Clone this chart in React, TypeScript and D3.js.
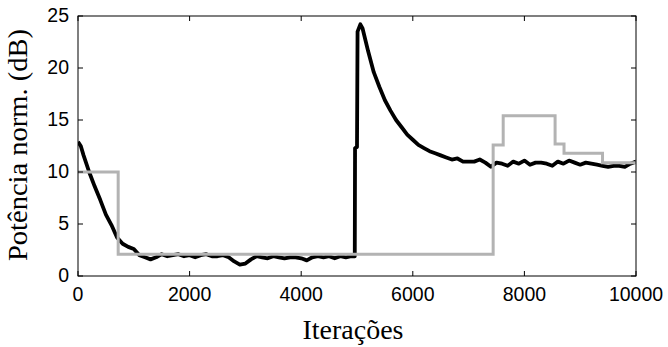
import React from "react";
import * as d3 from "d3";

const blackIter = [0, 50, 100, 200, 300, 400, 500, 600, 700, 800, 900, 1000, 1100, 1200, 1300, 1400, 1500, 1600, 1700, 1800, 1900, 2000, 2100, 2200, 2300, 2400, 2500, 2600, 2700, 2800, 2900, 3000, 3100, 3200, 3300, 3400, 3500, 3600, 3700, 3800, 3900, 4000, 4100, 4200, 4300, 4400, 4500, 4600, 4700, 4800, 4900, 4960, 4965, 5000, 5010, 5060, 5100, 5200, 5300, 5400, 5500, 5600, 5700, 5800, 5900, 6000, 6100, 6200, 6300, 6400, 6500, 6600, 6700, 6800, 6900, 7000, 7100, 7200, 7300, 7400, 7500, 7600, 7700, 7800, 7900, 8000, 8100, 8200, 8300, 8400, 8500, 8600, 8700, 8800, 8900, 9000, 9100, 9200, 9300, 9400, 9500, 9600, 9700, 9800, 9900, 10000];
const blackValues = [12.9, 12.5, 11.6, 10.0, 8.6, 7.3, 5.9, 4.9, 3.7, 3.1, 2.8, 2.6, 2.0, 1.8, 1.6, 1.8, 2.1, 1.9, 2.0, 2.1, 1.9, 2.0, 1.8, 2.0, 2.1, 1.9, 1.9, 2.0, 1.8, 1.4, 1.1, 1.2, 1.6, 1.9, 1.8, 1.7, 1.9, 1.8, 1.7, 1.8, 1.8, 1.7, 1.5, 1.8, 1.9, 1.8, 1.9, 1.7, 1.9, 1.8, 1.9, 1.9, 12.3, 12.4, 23.5, 24.2, 23.8, 21.6, 19.6, 18.2, 16.9, 15.9, 15.0, 14.3, 13.6, 13.1, 12.6, 12.3, 12.0, 11.8, 11.6, 11.4, 11.2, 11.3, 11.0, 11.0, 11.0, 11.2, 10.9, 10.5, 10.9, 10.8, 10.6, 11.0, 10.8, 11.1, 10.7, 10.9, 10.9, 10.8, 10.6, 11.0, 10.8, 11.1, 10.9, 10.7, 10.9, 10.8, 10.7, 10.6, 10.5, 10.6, 10.6, 10.5, 10.8, 11.0];

const grayStepStarts = [0, 720, 7440, 7620, 8550, 8710, 9400, 10000];
const grayStepValues = [10.0, 2.1, 12.6, 15.4, 12.7, 11.8, 10.9, 10.9];

const xTicks = [0, 2000, 4000, 6000, 8000, 10000];
const yTicks = [0, 5, 10, 15, 20, 25];
const xLabel = "Iterações";
const yLabel = "Potência norm. (dB)";

export default function App() {
  const W = 668, H = 347;
  const left = 78, right = 636, top = 16, bottom = 276;
  const x = d3.scaleLinear().domain([0, 10000]).range([left, right]);
  const y = d3.scaleLinear().domain([0, 25]).range([bottom, top]);

  const blackPts: [number, number][] = blackIter.map((it, i) => [it, blackValues[i]]);
  const grayPts: [number, number][] = grayStepStarts.map((it, i) => [it, grayStepValues[i]]);

  const line = d3.line<[number, number]>().x(d => x(d[0])).y(d => y(d[1]));
  const stepLine = d3.line<[number, number]>().x(d => x(d[0])).y(d => y(d[1])).curve(d3.curveStepAfter);

  const tickLen = 5;
  const sans = "'Liberation Sans', Arial, sans-serif";
  const serif = "'Liberation Serif', 'Times New Roman', serif";

  return (
    <svg width={W} height={H} style={{ position: "absolute", left: 0, top: 0, background: "#fff" }}>
      <defs>
        <clipPath id="plotclip">
          <rect x={left} y={top - 2} width={right - left} height={bottom - top + 2} />
        </clipPath>
      </defs>
      <g clipPath="url(#plotclip)">
        <path d={line(blackPts) || ""} fill="none" stroke="#000" strokeWidth={3.8} strokeLinejoin="round" />
        <path d={stepLine(grayPts) || ""} fill="none" stroke="#b3b3b3" strokeWidth={3} />
      </g>
      <rect x={left} y={top} width={right - left} height={bottom - top} fill="none" stroke="#000" strokeWidth={1} />
      {xTicks.map(t => (
        <g key={"x" + t}>
          <line x1={x(t)} x2={x(t)} y1={bottom} y2={bottom - tickLen} stroke="#000" />
          <line x1={x(t)} x2={x(t)} y1={top} y2={top + tickLen} stroke="#000" />
          <text x={x(t)} y={301} textAnchor="middle" fontFamily={sans} fontSize={19.5} fill="#000">{t}</text>
        </g>
      ))}
      {yTicks.map(t => (
        <g key={"y" + t}>
          <line x1={left} x2={left + tickLen} y1={y(t)} y2={y(t)} stroke="#000" />
          <line x1={right} x2={right - tickLen} y1={y(t)} y2={y(t)} stroke="#000" />
          <text x={69} y={y(t) + 6} textAnchor="end" fontFamily={sans} fontSize={19.5} fill="#000">{t}</text>
        </g>
      ))}
      <text x={353} y={339} textAnchor="middle" fontFamily={serif} fontSize={27} textLength={101} lengthAdjust="spacingAndGlyphs" fill="#000">{xLabel}</text>
      <text transform={`translate(27,145) rotate(-90)`} textAnchor="middle" fontFamily={serif} fontSize={27} textLength={232} lengthAdjust="spacingAndGlyphs" fill="#000">{yLabel}</text>
    </svg>
  );
}
